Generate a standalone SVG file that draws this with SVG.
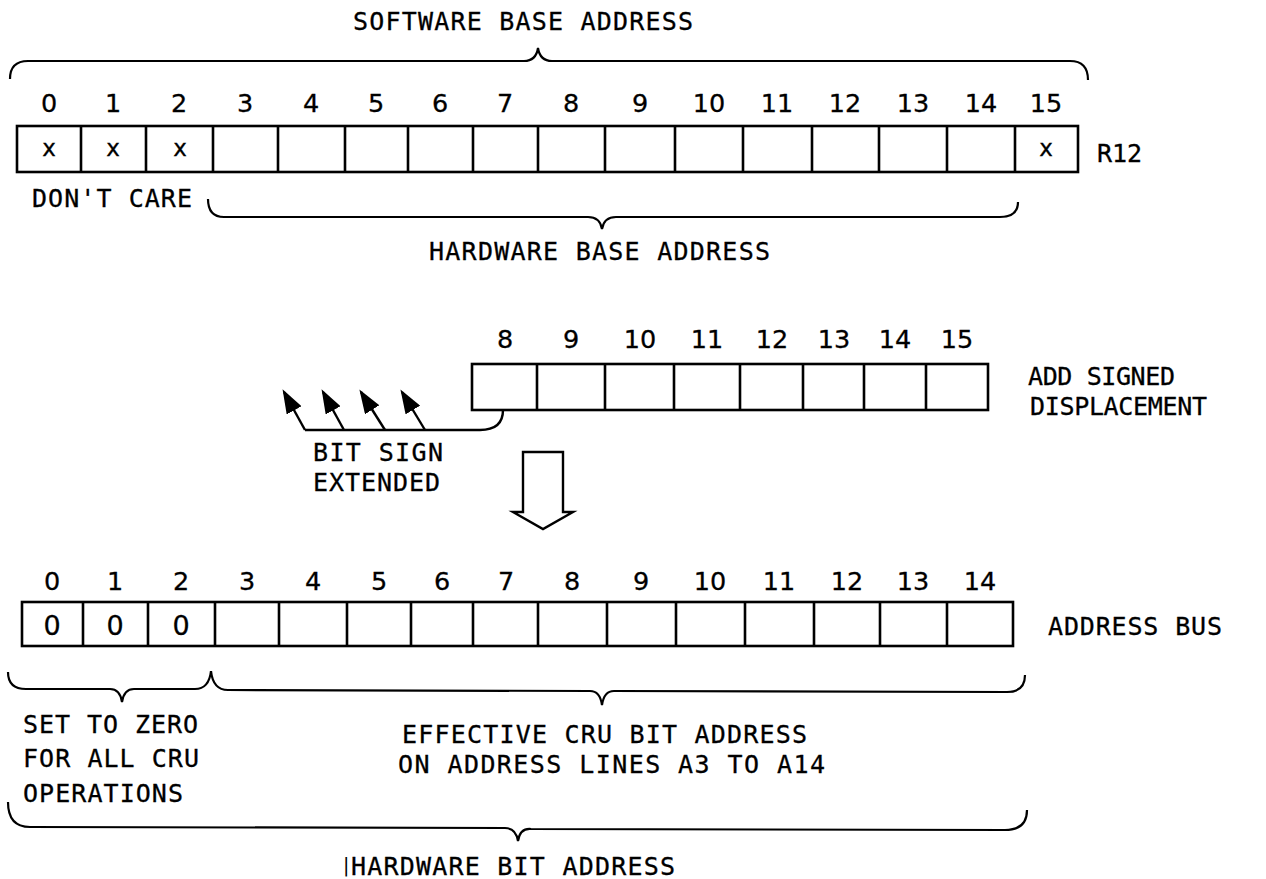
<svg xmlns="http://www.w3.org/2000/svg" width="1266" height="879" viewBox="0 0 1266 879">
<defs>
<marker id="ah" markerUnits="userSpaceOnUse" viewBox="0 0 24 17" refX="21" refY="8.5" markerWidth="24" markerHeight="17" orient="auto">
<path d="M0,0 L24,8.5 L0,17 z" fill="#000"/>
</marker>
</defs>
<style>
.box{fill:none;stroke:#000;stroke-width:2.6}
.div{stroke:#000;stroke-width:2.6}
.br{fill:none;stroke:#000;stroke-width:2.2}
.ln{fill:none;stroke:#000;stroke-width:2.4}
.t{font-family:"DejaVu Sans Mono","Liberation Mono",monospace;font-size:25px;fill:#000;stroke:#000;stroke-width:0.3}
.d{font-family:"DejaVu Sans","Liberation Sans",sans-serif;font-size:25.5px;fill:#000;stroke:#000;stroke-width:0.3;text-anchor:middle}
.x{font-family:"DejaVu Sans","Liberation Sans",sans-serif;font-size:23px;fill:#000;stroke:#000;stroke-width:0.3;text-anchor:middle}
</style>
<rect width="1266" height="879" fill="#fff"/>

<g id="r12">
<rect class="box" x="17" y="126" width="1061" height="46"/>
<path class="div" d="M81,126V172M146,126V172M213,126V172M278,126V172M345,126V172M408,126V172M473,126V172M538,126V172M605,126V172M675,126V172M743,126V172M812,126V172M879,126V172M947,126V172M1015,126V172"/>
<g class="d">
<text x="49" y="112">0</text><text x="113" y="112">1</text><text x="179" y="112">2</text><text x="245" y="112">3</text><text x="311" y="112">4</text><text x="376" y="112">5</text><text x="440" y="112">6</text><text x="505" y="112">7</text><text x="571" y="112">8</text><text x="640" y="112">9</text><text x="709" y="112">10</text><text x="777" y="112">11</text><text x="845" y="112">12</text><text x="913" y="112">13</text><text x="981" y="112">14</text><text x="1046" y="112">15</text>
</g>
<g class="x">
<text x="49" y="156">x</text><text x="113" y="156">x</text><text x="180" y="156">x</text><text x="1046" y="156">x</text>
</g>
<text class="t" x="1097" y="162" textLength="45" lengthAdjust="spacing">R12</text>
</g>

<g id="displacement">
<rect class="box" x="472" y="364" width="516" height="46"/>
<path class="div" d="M537,364V410M605,364V410M674,364V410M740,364V410M803,364V410M864,364V410M926,364V410"/>
<g class="d">
<text x="505" y="348">8</text><text x="571" y="348">9</text><text x="640" y="348">10</text><text x="707" y="348">11</text><text x="772" y="348">12</text><text x="834" y="348">13</text><text x="895" y="348">14</text><text x="957" y="348">15</text>
</g>
<text class="t" x="1028" y="385" textLength="147" lengthAdjust="spacing">ADD SIGNED</text>
<text class="t" x="1030" y="415" textLength="177" lengthAdjust="spacing">DISPLACEMENT</text>
</g>

<g id="address-bus">
<rect class="box" x="22" y="602" width="991" height="44"/>
<path class="div" d="M83,602V646M148,602V646M215,602V646M279,602V646M347,602V646M411,602V646M473,602V646M538,602V646M607,602V646M676,602V646M745,602V646M814,602V646M880,602V646M947,602V646"/>
<g class="d">
<text x="52" y="590">0</text><text x="115" y="590">1</text><text x="181" y="590">2</text><text x="247" y="590">3</text><text x="313" y="590">4</text><text x="379" y="590">5</text><text x="442" y="590">6</text><text x="506" y="590">7</text><text x="572" y="590">8</text><text x="641" y="590">9</text><text x="710" y="590">10</text><text x="779" y="590">11</text><text x="847" y="590">12</text><text x="913" y="590">13</text><text x="980" y="590">14</text>
</g>
<g class="d" style="font-size:27px">
<text x="52" y="635">0</text><text x="115" y="635">0</text><text x="181" y="635">0</text>
</g>
<text class="t" x="1048" y="635" textLength="174" lengthAdjust="spacing">ADDRESS BUS</text>
</g>

<g id="labels">
<text class="t" x="353" y="30" textLength="340" lengthAdjust="spacing">SOFTWARE BASE ADDRESS</text>
<text class="t" x="32" y="207" textLength="160" lengthAdjust="spacing">DON'T CARE</text>
<text class="t" x="429" y="260" textLength="341" lengthAdjust="spacing">HARDWARE BASE ADDRESS</text>
<text class="t" x="313" y="461" textLength="130" lengthAdjust="spacing">BIT SIGN</text>
<text class="t" x="313" y="491" textLength="127" lengthAdjust="spacing">EXTENDED</text>
<text class="t" x="23" y="733" textLength="175" lengthAdjust="spacing">SET TO ZERO</text>
<text class="t" x="23" y="767" textLength="176" lengthAdjust="spacing">FOR ALL CRU</text>
<text class="t" x="23" y="802" textLength="160" lengthAdjust="spacing">OPERATIONS</text>
<text class="t" x="402" y="743" textLength="405" lengthAdjust="spacing">EFFECTIVE CRU BIT ADDRESS</text>
<text class="t" x="398" y="773" textLength="427" lengthAdjust="spacing">ON ADDRESS LINES A3 TO A14</text>
<text x="343" y="872" style="font-family:'DejaVu Sans',sans-serif;font-size:19px;fill:#000">|</text>
<text class="t" x="351" y="875" textLength="324" lengthAdjust="spacing">HARDWARE BIT ADDRESS</text>
</g>

<g id="connectors">
<path class="br" d="M10,79 Q10,61 28,61 L524,61 Q536,61 538,48 Q540,61 552,61 L1070,61 Q1088,61 1088,80"/>
<path class="br" d="M208,199 Q208,217 224,217 L588,217 Q600,217 602,229 Q604,217 616,217 L1000,217 Q1018,217 1018,202"/>
<path class="br" d="M8,672 Q8,689 26,689 L110,689 Q120,689 122,702 Q124,689 134,689 L195,689 Q209,689 211,671"/>
<path class="br" d="M211,671 Q213,690 228,690 L590,691 Q600,691 602,705 Q604,691 614,691 L1007,692 Q1025,692 1025,675"/>
<path class="br" d="M8,802 Q8,827 30,827 L505,828 Q516,828 518,841 Q520,828 531,829 L1005,830 Q1027,830 1027,810"/>
<path class="ln" d="M503,410 Q503,430 480,430 L305,430"/>
<line class="ln" x1="305" y1="430" x2="284" y2="392" marker-end="url(#ah)"/>
<line class="ln" x1="344" y1="430" x2="323" y2="392" marker-end="url(#ah)"/>
<line class="ln" x1="385" y1="430" x2="361" y2="392" marker-end="url(#ah)"/>
<line class="ln" x1="425" y1="430" x2="402" y2="392" marker-end="url(#ah)"/>
<polygon class="ln" points="523,452 563,452 563,512 573,512 543,529 513,512 523,512"/>
</g>
</svg>
